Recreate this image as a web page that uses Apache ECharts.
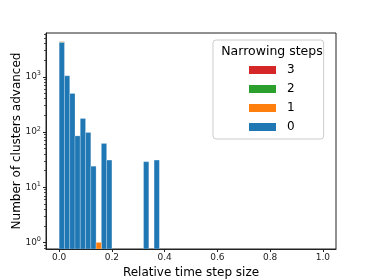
<!DOCTYPE html>
<html>
<head>
<meta charset="utf-8">
<script src="https://cdn.jsdelivr.net/npm/echarts@6/dist/echarts.min.js"></script>
<style>html,body{margin:0;padding:0;background:#fff;}#c{width:374px;height:280px;}</style>
</head>
<body>
<div id="c"></div>
<script>
// Histogram bins: width 0.02 starting at 0
const BIN_START = 0;
const BIN_WIDTH = 0.02;
// counts per bin, by number of narrowing steps
const steps0 = [4200, 1040, 500, 85, 176, 98, 24, 0, 62, 31, 0, 0, 0, 0, 0, 0, 29, 0, 31];
const steps1 = [0, 0, 0, 0, 0, 0, 0, 1, 0, 0, 0, 0, 0, 0, 0, 0, 0, 0, 0];
const steps2 = [80, 0, 0, 0, 0, 0, 0, 0, 0, 0, 0, 0, 0, 0, 0, 0, 0, 0, 0];
const steps3 = [40, 0, 0, 0, 0, 0, 0, 0, 0, 0, 0, 0, 0, 0, 0, 0, 0, 0, 0];
const seriesNames = ['0', '1', '2', '3'];
const seriesColors = ['#1f77b4', '#ff7f0e', '#2ca02c', '#d62728'];
const xTicks = [0, 0.2, 0.4, 0.6, 0.8, 1.0];
const yTicks = [1, 10, 100, 1000];
const yMinorTicks = [0.8, 0.9, 2, 3, 4, 5, 6, 7, 8, 9, 20, 30, 40, 50, 60, 70, 80, 90,
  200, 300, 400, 500, 600, 700, 800, 900, 2000, 3000, 4000, 5000, 6000];
const X_MIN = -0.05, X_MAX = 1.05;
const Y_MIN = 0.76, Y_MAX = 6200;

const allSteps = [steps0, steps1, steps2, steps3];
// build stacked rectangles [x0, x1, yBottom, yTop]
const cum = steps0.map(() => 0);
const seriesData = allSteps.map(arr => {
  const out = [];
  arr.forEach((v, i) => {
    if (v > 0) {
      const x0 = BIN_START + i * BIN_WIDTH;
      out.push([x0, x0 + BIN_WIDTH, cum[i], cum[i] + v]);
      cum[i] += v;
    }
  });
  return out;
});

function renderBar(params, api) {
  const x0 = api.value(0), x1 = api.value(1);
  const yb = api.value(2), yt = api.value(3);
  const p0 = api.coord([x0, yb > 0 ? yb : Y_MIN]);
  const p1 = api.coord([x1, yt]);
  return {
    type: 'rect',
    shape: { x: p0[0], y: p1[1], width: p1[0] - p0[0], height: p0[1] - p1[1] },
    style: { fill: api.visual('color'), stroke: 'rgba(255,255,255,0.3)', lineWidth: 0.8 }
  };
}

const FONT = 'DejaVu Sans';
const chart = echarts.init(document.getElementById('c'), null, { renderer: 'canvas' });

const series = seriesNames.map((name, k) => ({
  type: 'custom',
  name: name,
  renderItem: renderBar,
  clip: true,
  itemStyle: { color: seriesColors[k] },
  encode: { x: [0, 1], y: [2, 3] },
  data: seriesData[k]
}));

chart.setOption({
  animation: false,
  backgroundColor: '#fff',
  grid: { left: 46, right: 38, top: 33, bottom: 31, show: true, borderColor: '#222', borderWidth: 1,
    backgroundColor: 'transparent', outerBoundsMode: 'none', containLabel: false },
  xAxis: {
    type: 'value', min: X_MIN, max: X_MAX,
    name: 'Relative time step size', nameLocation: 'middle', nameGap: 15,
    nameTextStyle: { fontFamily: FONT, fontSize: 12, color: '#000' },
    axisLine: { show: true, onZero: false, lineStyle: { color: '#222', width: 1 } },
    axisTick: { show: true, length: 3, customValues: xTicks, lineStyle: { color: '#222' } },
    axisLabel: { customValues: xTicks, fontFamily: FONT, fontSize: 9, color: '#222', margin: 4,
      formatter: v => v.toFixed(1) },
    splitLine: { show: false }
  },
  yAxis: [{
    type: 'log', min: Y_MIN, max: Y_MAX, logBase: 10,
    name: 'Number of clusters advanced', nameLocation: 'middle', nameGap: 23, nameMoveOverlap: false,
    nameTextStyle: { fontFamily: FONT, fontSize: 12, color: '#000' },
    axisLine: { show: true, onZero: false, lineStyle: { color: '#222', width: 1 } },
    axisTick: { show: true, length: 3, customValues: yTicks, lineStyle: { color: '#222' } },
    axisLabel: { customValues: yTicks, fontFamily: FONT, fontSize: 9, color: '#222', margin: 5,
      formatter: v => '10{s|' + Math.round(Math.log10(v)) + '}',
      rich: { s: { fontSize: 6.5, fontFamily: FONT, color: '#222', verticalAlign: 'top', padding: [0, 0, 6, 0] } } },
    splitLine: { show: false }
  }, {
    type: 'log', min: Y_MIN, max: Y_MAX, logBase: 10, position: 'left',
    axisLine: { show: false, onZero: false },
    axisTick: { show: true, length: 2, customValues: yMinorTicks, lineStyle: { color: '#222', width: 0.8 } },
    axisLabel: { show: false },
    splitLine: { show: false }
  }],
  legend: {
    orient: 'vertical', left: 213, top: 40,
    data: ['3', '2', '1', '0'],
    icon: 'rect', itemWidth: 27, itemHeight: 8, itemGap: 7,
    padding: [24, 29, 6, 36],
    backgroundColor: 'rgba(255,255,255,0.8)', borderColor: '#ccc', borderWidth: 1, borderRadius: 3,
    textStyle: { fontFamily: FONT, fontSize: 12, color: '#000', padding: [0, 0, 0, 6] }
  },
  graphic: [{
    type: 'text', x: 272, y: 52, z: 100, zlevel: 0,
    style: { text: 'Narrowing steps', fontFamily: FONT, fontSize: 12.5, fill: '#000',
      align: 'center', verticalAlign: 'middle' }
  }],
  series: series
});
</script>
</body>
</html>
